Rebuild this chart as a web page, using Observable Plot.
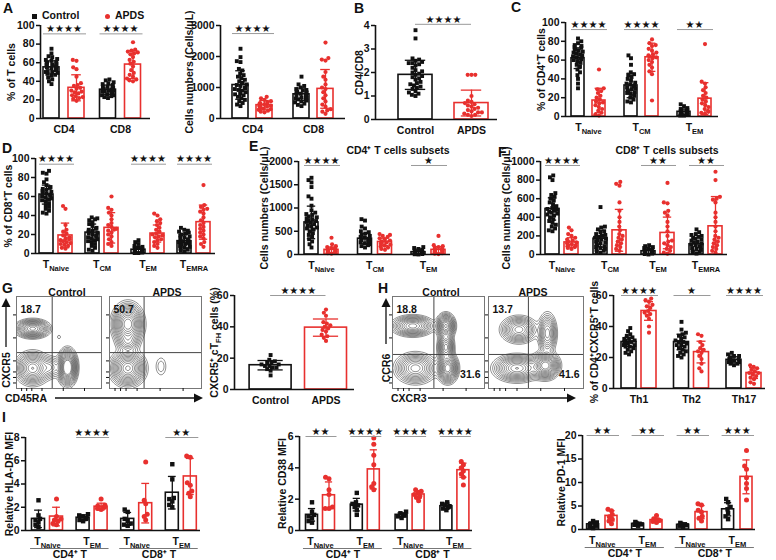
<!DOCTYPE html>
<html><head><meta charset="utf-8">
<script src="https://cdn.jsdelivr.net/npm/d3@7"></script>
<script src="https://cdn.jsdelivr.net/npm/@observablehq/plot@0.6"></script>
<style>
html,body{margin:0;padding:0;background:#fff;}
#fig{position:relative;width:776px;height:560px;overflow:hidden;background:#fff;font-family:'Liberation Sans',Arial,Helvetica,sans-serif;font-weight:bold;color:#111;}
.lbl{position:absolute;white-space:nowrap;line-height:1;}
.letter{font-size:14px;}
.ttl{font-size:10.5px;transform:translate(-50%,-50%);}
</style></head>
<body><div id="fig"></div>
<script>
// ================= DATA =================
const seriesNames = ["Control", "APDS"];

// A (left) – % of T cells
const aPctGroups = ["CD4", "CD8"];
const aPctCtrl = [[75,70,67,66,64,63,62,61,60,60,59,58,58,57,56,56,55,55,54,53,52,51,50,50,49,48,47,46,44,42,40,37],
                  [42,41,39,38,37,36,35,34,34,33,32,32,31,31,30,30,29,29,28,28,27,27,26,25,25,24,23,22]];
const aPctApds = [[63,62,55,53,45,38,36,35,33,32,30,29,28,27,25,24,23,22,21,19],
                  [82,74,73,72,71,70,69,66,63,61,59,56,52,49,47,45,43,42,41,40]];
const aPctCtrlMean = [55, 31], aPctCtrlSd = [7, 5];
const aPctApdsMean = [33, 58], aPctApdsSd = [14, 15];
const aPctStars = ["★★★★", "★★★★"];
const aPctTicks = [0, 20, 40, 60, 80, 100];

// A (right) – Cells numbers
const aNumGroups = ["CD4", "CD8"];
const aNumCtrl = [[2250,1980,1850,1820,1600,1550,1450,1400,1350,1300,1250,1200,1150,1100,1080,1050,1000,980,950,920,900,850,800,780,750,700,650,600,550,500,450,400],
                  [1350,1100,1050,1000,950,920,900,880,860,840,820,800,780,760,740,720,700,680,660,640,620,600,580,550,520,480,440,400]];
const aNumApds = [[700,650,600,560,520,500,480,460,440,420,400,380,360,340,320,300,280,250,220,200],
                  [2450,1950,1900,1870,1500,1350,1250,1100,1000,950,850,750,650,550,450,380,300,260,220,150]];
const aNumCtrlMean = [1080, 780], aNumCtrlSd = [460, 200];
const aNumApdsMean = [430, 955], aNumApdsSd = [150, 625];
const aNumStars = ["★★★★", ""];
const aNumTicks = [0, 1000, 2000, 3000];

// B – CD4/CD8
const bCtrl = [[3.8,3.45,2.6,2.55,2.5,2.45,2.4,2.4,2.35,2.3,2.2,2.1,2.05,2.0,1.95,1.9,1.85,1.8,1.75,1.7,1.6,1.55,1.5,1.45,1.4,1.35,1.3,1.2,1.15,1.1,1.05,1.0]];
const bApds = [[1.9,1.9,1.9,1.0,0.8,0.75,0.7,0.65,0.6,0.55,0.5,0.45,0.4,0.35,0.3,0.3,0.25,0.2,0.2,0.15]];
const bCtrlMean = [1.9], bCtrlSd = [0.62], bApdsMean = [0.7], bApdsSd = [0.55];
const bStars = ["★★★★"];
const bTicks = [0, 1, 2, 3, 4];

// C – % of CD4+ T cells
const cGroups = ["T_{Naive}", "T_{CM}", "T_{EM}"];
const cCtrl = [[83,80,78,76,75,74,73,72,71,70,69,68,67,66,65,64,63,62,61,60,59,57,55,53,50,47,44,40,35,30],
               [65,62,55,47,45,44,42,40,38,36,35,34,33,32,31,30,29,28,27,26,25,24,22,20,18,16,15],
               [13,11,9,8,7,7,6,6,5,5,5,4,4,4,3,3,3,2,2,2,1,1]];
const cApds = [[50,30,29,27,25,22,20,18,16,15,14,12,10,8,6,4,2,1],
               [82,78,76,75,72,70,68,66,65,64,63,62,60,58,55,52,48,45,17],
               [77,37,35,31,28,25,22,20,18,16,14,12,10,8,6,5,4,3]];
const cCtrlMean = [62, 33, 5], cCtrlSd = [11, 13, 3];
const cApdsMean = [17, 63, 19], cApdsSd = [13, 15, 17];
const cStars = ["★★★★", "★★★★", "★★"];
const pctTicks = [0, 20, 40, 60, 80, 100];

// D – % of CD8+ T cells
const dGroups = ["T_{Naive}", "T_{CM}", "T_{EM}", "T_{EMRA}"];
const dCtrl = [[87,85,84,78,75,72,70,69,68,67,66,65,64,63,62,61,60,59,58,57,56,55,53,51,49,47,45,43,42],
               [38,37,36,35,33,31,29,27,26,25,24,23,22,21,20,19,18,17,16,15,14,13,12,10,8,6,4,3],
               [14,12,10,8,7,6,6,5,5,4,4,4,3,3,3,2,2,2,1,1,1,0.5,0.5],
               [27,25,24,23,22,21,20,19,18,17,16,15,14,13,12,12,11,10,9,8,7,6,5,4,3,2]];
const dApds = [[50,47,30,25,23,21,19,17,16,15,14,13,12,11,10,9,8,6,5],
               [60,48,46,43,40,36,32,30,28,26,25,24,22,20,18,15,12,10,8],
               [42,40,36,34,32,30,27,25,23,21,20,19,18,17,15,14,12,10,8,6],
               [72,51,49,47,46,44,42,38,35,32,30,28,26,24,22,20,18,16,12,10,7]];
const dCtrlMean = [62, 22, 4, 13], dCtrlSd = [10, 9, 3, 7];
const dApdsMean = [19, 27, 21, 33], dApdsSd = [13, 16, 9, 18];
const dStars = ["★★★★", "", "★★★★", "★★★★"];

// E – CD4+ T cells subsets (cells/µL)
const eGroups = ["T_{Naive}", "T_{CM}", "T_{EM}"];
const eCtrl = [[1650,1600,1550,1450,1250,1200,1050,950,900,870,850,820,800,780,760,740,720,700,680,650,620,600,580,560,540,500,460,420,380,330,280,220,150],
               [760,730,600,560,500,480,450,420,400,380,360,340,330,320,310,300,290,280,270,260,240,220,200,180,150],
               [160,140,120,100,90,80,70,60,55,50,45,40,35,30,25,20,15,10,5,0]];
const eApds = [[360,220,180,160,140,130,120,110,100,90,80,70,60,50,40,30,20],
               [440,420,400,380,350,330,300,280,270,260,250,230,210,190,170,150,120,100],
               [400,200,180,160,140,130,120,110,100,90,80,70,60,50,40,30,20,10]];
const eCtrlMean = [690, 340, 50], eCtrlSd = [350, 110, 30];
const eApdsMean = [100, 270, 100], eApdsSd = [60, 80, 70];
const eStars = ["★★★★", "", "★"];
const eTicks = [0, 500, 1000, 1500, 2000];

// F – CD8+ T cells subsets (cells/µL)
const fGroups = ["T_{Naive}", "T_{CM}", "T_{EM}", "T_{EMRA}"];
const fCtrl = [[850,830,800,660,640,620,600,580,560,540,520,510,500,490,480,470,460,450,440,430,420,400,380,360,340,320,300,280,260,250],
               [510,300,290,270,250,240,220,210,200,190,180,170,160,150,140,130,120,110,100,90,80,70,60,50,40,30,20],
               [100,90,80,70,60,55,50,45,40,35,30,25,20,15,10,5,0],
               [270,240,220,210,200,190,180,170,160,150,140,130,120,110,100,90,80,70,60,50,40,30,20,10]];
const fApds = [[290,260,220,200,180,160,150,140,130,120,110,100,95,90,80,70,60],
               [780,760,740,560,470,400,350,300,260,220,200,180,160,140,120,100,80,60,40],
               [770,560,550,470,450,420,350,300,250,200,150,140,120,100,80,60,40,20,10],
               [890,800,620,600,590,560,450,400,350,300,250,200,180,160,140,120,100,80,60,40,20]];
const fCtrlMean = [490, 170, 35, 110], fCtrlSd = [120, 90, 25, 70];
const fApdsMean = [130, 260, 232, 303], fApdsSd = [50, 225, 170, 320];
const fStars = ["★★★★", "", "★★", "★★"];
const fTicks = [0, 200, 400, 600, 800, 1000];

// G – CXCR5+ cTFH cells (%)
const gCtrl = [[22,19,18,17,17,16,16,15,15,14,14,13,12,9]];
const gApds = [[51,49,47,43,42,41,40,39,38,37,35,34,33,31]];
const gCtrlMean = [15.5], gCtrlSd = [3], gApdsMean = [39.5], gApdsSd = [5.5];
const gStars = ["★★★★"];
const sixtyTicks = [0, 20, 40, 60];

// H – % of CD4+CXCR5+ T cells
const hGroups = ["Th1", "Th2", "Th17"];
const hCtrl = [[39,37,35,34,33,32,32,31,31,30,30,29,29,28,28,27,27,26,25,24,23,22],
               [43,38,36,35,34,33,32,31,30,30,29,28,28,27,26,25,24,23,22,21,20],
               [23,22,21,21,20,20,19,19,19,18,18,18,17,17,17,16,16,15]];
const hApds = [[58,57,56,54,53,52,50,49,48,47,45,40,36],
               [35,34,30,28,26,25,24,23,21,19,16,13,11],
               [15,14,13,12,11,10,10,9,8,7,6,4,3]];
const hCtrlMean = [30, 30, 18.5], hCtrlSd = [3, 5, 2];
const hApdsMean = [50, 23.5, 10], hApdsSd = [6, 7, 3.5];
const hStars = ["★★★★", "★", "★★★★"];

// I – relative MFI
const iGroups = ["T_{Naive}", "T_{EM}", "T_{Naive}", "T_{EM}"];
const iCats = ["CD4⁺ T", "CD8⁺ T"];
const i1Ctrl = [[2.6,1.3,1.0,0.9,0.7,0.5,0.3],[1.4,1.3,1.2,1.1,1.0,0.9,0.8],[1.8,1.6,1.0,0.8,0.6,0.5,0.4],[5.7,4.4,2.8,2.7,2.5,2.2,2.0]];
const i1Apds = [[2.7,1.2,1.0,0.9,0.8,0.6,0.5],[2.7,2.2,2.1,2.0,2.0,1.9,1.8],[5.9,2.6,2.3,1.4,1.2,0.9],[6.4,6.3,4.1,3.9,3.4,3.2,2.9]];
const i1CtrlMean = [1.0, 1.1, 1.0, 3.25], i1CtrlSd = [0.75, 0.25, 0.55, 1.4];
const i1ApdsMean = [1.2, 2.05, 2.35, 4.65], i1ApdsSd = [0.8, 0.3, 1.7, 1.55];
const i1Stars = ["", "★★★★", "", "★★"];
const i1Ticks = [0, 2, 4, 6, 8];

const i2Ctrl = [[1.8,1.2,1.0,0.9,0.8,0.6,0.5],[2.4,1.8,1.7,1.6,1.5,1.3,1.0],[1.2,1.1,1.0,1.0,0.95,0.9,0.8],[1.8,1.7,1.6,1.55,1.5,1.4,1.3]];
const i2Apds = [[3.4,3.3,2.6,2.3,1.5,1.4,1.4],[5.9,5.5,4.8,4.2,3.0,2.8,2.6],[2.6,2.5,2.4,2.3,2.2,2.1,1.9],[4.4,4.2,4.0,3.8,3.6,3.4,2.9]];
const i2CtrlMean = [1.0, 1.65, 1.0, 1.55], i2CtrlSd = [0.4, 0.4, 0.12, 0.2];
const i2ApdsMean = [2.25, 3.9, 2.3, 3.85], i2ApdsSd = [0.85, 1.25, 0.25, 0.45];
const i2Stars = ["★★", "★★★★", "★★★★", "★★★★"];
const i2Ticks = [0, 2, 4, 6];

const i3Ctrl = [[1.8,1.5,1.2,1.0,0.8,0.6,0.3],[1.6,1.4,1.3,1.2,1.1,1.0,0.8],[1.4,1.2,1.1,1.0,0.9,0.8,0.6],[6.5,5.8,4.8,4.3,3.5,2.8,2.2]];
const i3Apds = [[4.3,4.0,3.2,2.7,2.2,1.8,1.2],[3.0,2.3,2.1,2.0,1.9,1.7,1.5],[5.5,5.2,4.1,3.7,2.8,2.4,1.8],[16.8,13.5,12.8,11.0,9.8,8.7,6.3]];
const i3CtrlMean = [1.1, 1.2, 1.0, 4.3], i3CtrlSd = [0.5, 0.3, 0.3, 1.4];
const i3ApdsMean = [2.9, 2.0, 3.7, 11.2], i3ApdsSd = [1.1, 0.4, 1.4, 3.6];
const i3Stars = ["★★", "★★", "★★", "★★★"];
const i3Ticks = [0, 5, 10, 15, 20];

// Flow cytometry contour panels: density cluster centres (x, y in 0–1), spreads and weights
const gCtrlClusters = [
  {x:0.19,y:0.65,sx:0.09,sy:0.045,w:0.8},{x:0.19,y:0.22,sx:0.09,sy:0.08,w:0.75},
  {x:0.6,y:0.23,sx:0.05,sy:0.085,w:1.3},{x:0.40,y:0.23,sx:0.06,sy:0.06,w:0.2},{x:0.50,y:0.56,sx:0.018,sy:0.018,w:0.05}];
const gApdsClusters = [
  {x:0.2,y:0.7,sx:0.075,sy:0.1,w:1.0},{x:0.2,y:0.5,sx:0.06,sy:0.05,w:0.25},
  {x:0.2,y:0.22,sx:0.085,sy:0.085,w:0.9},{x:0.56,y:0.24,sx:0.04,sy:0.07,w:0.07}];
const hCtrlClusters = [
  {x:0.22,y:0.68,sx:0.1,sy:0.05,w:0.7},{x:0.58,y:0.68,sx:0.045,sy:0.06,w:0.9},
  {x:0.58,y:0.45,sx:0.04,sy:0.07,w:0.7},{x:0.6,y:0.22,sx:0.05,sy:0.07,w:1.0},{x:0.25,y:0.22,sx:0.1,sy:0.075,w:0.6}];
const hApdsClusters = [
  {x:0.32,y:0.64,sx:0.085,sy:0.065,w:0.6},{x:0.62,y:0.6,sx:0.045,sy:0.1,w:0.5},
  {x:0.6,y:0.25,sx:0.065,sy:0.065,w:1.0},{x:0.3,y:0.22,sx:0.11,sy:0.065,w:0.75}];
const contourLevels = [0.03,0.05,0.075,0.105,0.14,0.18,0.23,0.29,0.36,0.44,0.53,0.63,0.74,0.86];
const flowTicks = [0.06,0.12,0.18,0.3,0.55,0.8];
const gCtrlNums = ["18.7"], gApdsNums = ["50.7"];
const hCtrlNums = ["18.8", "31.6"], hApdsNums = ["13.7", "41.6"];

// ================= LAYOUT / STYLE =================
const RED = "#e8302e", BLACK = "#111";
const FONT = "'Liberation Sans', Arial, Helvetica, sans-serif";
const fig = document.getElementById("fig");

const L = {
  aPct: {x0:40, x1:150, c0:63.5, step:56.5, off:12.5, bw:16, yTop:25, yBot:118, titleX:11, sigY:91},
  aNum: {x0:220, x1:345, c0:252, step:61, off:12, bw:16, yTop:25, yBot:118, titleX:189, sigY:2740},
  b:    {x0:375, x1:497, c0:443, step:100, off:28, bw:34, yTop:25, yBot:119, titleX:359, sigY:4.05, sigCenters:true},
  c:    {x0:565, x1:718, c0:588, step:53, off:10.5, bw:13, yTop:22, yBot:116, titleX:541, sigY:92.5},
  d:    {x0:35, x1:215, c0:55.5, step:46, off:9.5, bw:14, yTop:158, yBot:253, titleX:8, sigY:94},
  e:    {x0:298, x1:450, c0:321, step:53.5, off:10, bw:14, yTop:161, yBot:254, titleX:264, sigY:1914},
  f:    {x0:540, x1:727, c0:561.5, step:48, off:9.5, bw:14, yTop:161, yBot:254, titleX:506, sigY:957},
  g:    {x0:234, x1:354, c0:297.8, step:100, off:27.7, bw:42, yTop:295, yBot:389, titleX:214, sigY:60, sigCenters:true},
  h:    {x0:613, x1:765, c0:638.5, step:52.5, off:10, bw:15, yTop:295, yBot:388, titleX:594, sigY:60},
  i1:   {x0:25, x1:200, c0:47, step:44.6, off:9, bw:13, yTop:437, yBot:530, titleX:9, sigY:8, r:2.5},
  i2:   {x0:299, x1:472, c0:320, step:44.8, off:8.5, bw:12, yTop:436, yBot:530, titleX:282, sigY:6, r:2.5},
  i3:   {x0:582, x1:755, c0:601.8, step:45, off:9.2, bw:12, yTop:435, yBot:529, titleX:561, sigY:20, r:2.5}
};

function swarm(vals, ypx, d, maxOff) {
  const order = vals.map((v, i) => i).sort((a, b) => vals[a] - vals[b]);
  const placed = [], out = new Array(vals.length).fill(0);
  for (const i of order) {
    const y = ypx(vals[i]);
    const near = placed.filter(p => Math.abs(p.y - y) < d);
    const cands = [0];
    for (const p of near) { const dx = Math.sqrt(d * d - (p.y - y) ** 2); cands.push(p.x + dx, p.x - dx); }
    cands.sort((a, b) => Math.abs(a) - Math.abs(b) || a - b);
    let x = cands.find(c => near.every(p => (c - p.x) ** 2 + (y - p.y) ** 2 >= d * d - 0.01));
    if (x === undefined) x = 0;
    if (Math.abs(x) > maxOff) x = Math.sign(x) * (maxOff - (Math.abs(x) - maxOff) % maxOff);
    placed.push({x, y}); out[i] = x;
  }
  return out;
}

function richText(root) {
  const NS = "http://www.w3.org/2000/svg";
  root.querySelectorAll("text").forEach(el => {
    if (el.children.length) return;
    const t = el.textContent;
    if (!t.includes("_{")) return;
    el.textContent = "";
    let down = false;
    for (const part of t.split(/(_\{[^}]*\})/)) {
      if (!part) continue;
      const ts = document.createElementNS(NS, "tspan");
      if (part.startsWith("_{")) {
        ts.textContent = part.slice(2, -1);
        ts.setAttribute("dy", "3"); ts.setAttribute("font-size", "7.5px"); down = true;
      } else {
        ts.textContent = part;
        if (down) { ts.setAttribute("dy", "-3"); down = false; }
      }
      el.appendChild(ts);
    }
  });
}

function place(svg, left, top) {
  svg.style.position = "absolute";
  svg.style.left = left + "px";
  svg.style.top = top + "px";
  svg.style.overflow = "visible";
  svg.style.background = "transparent";
  richText(svg);
  fig.appendChild(svg);
}

function barPanel(p, g) {
  const mL = 60, mR = 8, mT = 26, mB = 36;
  const W = g.x1 - g.x0, H = g.yBot - g.yTop;
  const step = g.step, offU = g.off / step, hwU = g.bw / 2 / step, capU = g.bw * 0.3 / step;
  const xDom = [(g.x0 - g.c0) / step, (g.x1 - g.c0) / step];
  const ypx = v => H - v / p.yMax * H;
  const bars = [], ctrlDots = [], apdsDots = [];
  p.ctrl.forEach((_, i) => {
    const specs = [[seriesNames[0], p.ctrl[i], p.ctrlMean[i], p.ctrlSd[i], -1, ctrlDots, BLACK],
                   [seriesNames[1], p.apds[i], p.apdsMean[i], p.apdsSd[i], 1, apdsDots, RED]];
    for (const [s, pts, m, sd, sign, arr, color] of specs) {
      const cx = i + sign * offU;
      bars.push({s, cx, x1: cx - hwU, x2: cx + hwU, m, lo: Math.max(0, m - sd), hi: m + sd, color});
      const offs = swarm(pts, ypx, g.d ?? 3.8, g.bw / 2 - 1.5);
      pts.forEach((v, k) => arr.push({x: cx + offs[k] / step, y: v}));
    }
  });
  const xLabels = p.barLabels
    ? p.barLabels.map((t, j) => ({x: j === 0 ? -offU : offU, t}))
    : p.groups.map((t, i) => ({x: i, t}));
  const sig = p.stars.map((t, i) => ({t, x: i, y: g.sigY,
      x1: g.sigCenters ? i - offU : i - offU - hwU,
      x2: g.sigCenters ? i + offU : i + offU + hwU + 2 / step})).filter(d => d.t);
  const cats = (p.cats || []).map((t, j) => ({t, x: 2 * j + 0.5, x1: 2 * j - 0.38, x2: 2 * j + 1.38}));
  const marks = [
    Plot.rectY(bars, {x1: "x1", x2: "x2", y1: 0, y2: "m", fill: "white", stroke: "color", strokeWidth: 1.6}),
    Plot.dot(ctrlDots, {x: "x", y: "y", symbol: "square", fill: BLACK, r: g.r ?? 2.2}),
    Plot.dot(apdsDots, {x: "x", y: "y", symbol: "circle", fill: RED, r: g.r ?? 2.1}),
    Plot.ruleX(bars, {x: "cx", y1: "lo", y2: "hi", stroke: "color", strokeWidth: 1.3}),
    Plot.ruleY(bars, {y: "hi", x1: d => d.cx - capU, x2: d => d.cx + capU, stroke: "color", strokeWidth: 1.3}),
    Plot.ruleY(bars.filter(d => d.lo > 0), {y: "lo", x1: d => d.cx - capU, x2: d => d.cx + capU, stroke: "color", strokeWidth: 1.3}),
    Plot.ruleY([0], {stroke: BLACK, strokeWidth: 1.6}),
    Plot.ruleX([xDom[0]], {stroke: BLACK, strokeWidth: 1.6}),
    Plot.axisY({ticks: p.yTicks, tickFormat: d => String(d), tickSize: 4, tickPadding: 2, strokeWidth: 1.5, label: null, fontSize: 10.5}),
    Plot.text(xLabels, {x: "x", y: () => 0, dy: 11, text: "t", fontSize: 10.5}),
    Plot.ruleY(sig, {y: "y", x1: "x1", x2: "x2", stroke: "#9a9a9a", strokeWidth: 1}),
    Plot.text(sig, {x: "x", y: "y", dy: -5, text: "t", fontFamily: "DejaVu Sans", fontWeight: "normal", fontSize: 10}),
    Plot.text([p.yTitle], {frameAnchor: "left", textAnchor: "middle", rotate: -90, dx: g.titleX - g.x0, text: d => d, fontSize: 10.5}),
    Plot.ruleY(cats, {y: () => 0, x1: "x1", x2: "x2", dy: 18, stroke: "#777", strokeWidth: 1}),
    Plot.text(cats, {x: "x", y: () => 0, dy: 24.5, text: "t", fontSize: 10.5})
  ];
  const svg = Plot.plot({
    width: mL + W + mR, height: mT + H + mB,
    marginLeft: mL, marginRight: mR, marginTop: mT, marginBottom: mB,
    x: {type: "linear", domain: xDom, axis: null},
    y: {type: "linear", domain: [0, p.yMax], axis: null},
    color: {type: "identity"},
    style: {fontFamily: FONT, fontWeight: "bold", fontSize: "10.5px", color: BLACK, background: "transparent"},
    marks
  });
  place(svg, g.x0 - mL, g.yTop - mT);
}

function flowPanel(clusters, box, nums) {
  const mL = 4, mR = 1, mT = 1, mB = 4;
  const W = box.x1 - box.x0, H = box.y1 - box.y0;
  const f = (x, y) => clusters.reduce((s, c) =>
    s + c.w * Math.exp(-((x - c.x) ** 2 / (2 * c.sx * c.sx) + (y - c.y) ** 2 / (2 * c.sy * c.sy))), 0);
  const marks = [];
  try {
    marks.push(Plot.contour({x1: 0, y1: 0, x2: 1, y2: 1, value: f, thresholds: contourLevels,
      pixelSize: 1, stroke: "#4a4a4a", strokeWidth: 0.6, fill: "none"}));
  } catch (e) { console.error(e); }
  marks.push(
    Plot.ruleX([box.gx], {stroke: "#444", strokeWidth: 1}),
    Plot.ruleY([box.gy], {stroke: "#444", strokeWidth: 1}),
    Plot.frame({stroke: "#777"}),
    Plot.axisX({ticks: flowTicks, tickSize: 3, tickFormat: () => "", strokeWidth: 1}),
    Plot.axisY({ticks: flowTicks, tickSize: 3, tickFormat: () => "", strokeWidth: 1}),
    Plot.text(nums.slice(0, 1), {frameAnchor: "top-left", dx: 4, dy: 9, text: d => d, textAnchor: "start", fontSize: 10.5}),
    Plot.text(nums.slice(1), {frameAnchor: "bottom-right", dx: -4, dy: -11, text: d => d, textAnchor: "end", fontSize: 10.5})
  );
  const svg = Plot.plot({
    width: W + mL + mR, height: H + mT + mB,
    marginLeft: mL, marginRight: mR, marginTop: mT, marginBottom: mB,
    x: {domain: [0, 1], axis: null}, y: {domain: [0, 1], axis: null},
    style: {fontFamily: FONT, fontWeight: "bold", fontSize: "10.5px", color: BLACK, background: "transparent"},
    marks
  });
  place(svg, box.x0 - mL, box.y0 - mT);
}

function label(text, x, y, cls, extra) {
  const d = document.createElement("div");
  d.className = "lbl " + cls;
  d.style.left = x + "px"; d.style.top = y + "px";
  if (extra) Object.assign(d.style, extra);
  d.innerHTML = text;
  fig.appendChild(d);
}

// ================= BUILD =================
barPanel({groups: aPctGroups, ctrl: aPctCtrl, apds: aPctApds, ctrlMean: aPctCtrlMean, ctrlSd: aPctCtrlSd,
  apdsMean: aPctApdsMean, apdsSd: aPctApdsSd, stars: aPctStars, yMax: 100, yTicks: aPctTicks, yTitle: "% of T cells"}, L.aPct);
barPanel({groups: aNumGroups, ctrl: aNumCtrl, apds: aNumApds, ctrlMean: aNumCtrlMean, ctrlSd: aNumCtrlSd,
  apdsMean: aNumApdsMean, apdsSd: aNumApdsSd, stars: aNumStars, yMax: 3000, yTicks: aNumTicks, yTitle: "Cells numbers (Cells/μL)"}, L.aNum);
barPanel({groups: [""], barLabels: seriesNames, ctrl: bCtrl, apds: bApds, ctrlMean: bCtrlMean, ctrlSd: bCtrlSd,
  apdsMean: bApdsMean, apdsSd: bApdsSd, stars: bStars, yMax: 4, yTicks: bTicks, yTitle: "CD4/CD8"}, L.b);
barPanel({groups: cGroups, ctrl: cCtrl, apds: cApds, ctrlMean: cCtrlMean, ctrlSd: cCtrlSd,
  apdsMean: cApdsMean, apdsSd: cApdsSd, stars: cStars, yMax: 100, yTicks: pctTicks, yTitle: "% of CD4⁺T cells"}, L.c);
barPanel({groups: dGroups, ctrl: dCtrl, apds: dApds, ctrlMean: dCtrlMean, ctrlSd: dCtrlSd,
  apdsMean: dApdsMean, apdsSd: dApdsSd, stars: dStars, yMax: 100, yTicks: pctTicks, yTitle: "% of CD8⁺T cells"}, L.d);
barPanel({groups: eGroups, ctrl: eCtrl, apds: eApds, ctrlMean: eCtrlMean, ctrlSd: eCtrlSd,
  apdsMean: eApdsMean, apdsSd: eApdsSd, stars: eStars, yMax: 2000, yTicks: eTicks, yTitle: "Cells numbers (Cells/μL)"}, L.e);
barPanel({groups: fGroups, ctrl: fCtrl, apds: fApds, ctrlMean: fCtrlMean, ctrlSd: fCtrlSd,
  apdsMean: fApdsMean, apdsSd: fApdsSd, stars: fStars, yMax: 1000, yTicks: fTicks, yTitle: "Cells numbers (Cells/μL)"}, L.f);
barPanel({groups: [""], barLabels: seriesNames, ctrl: gCtrl, apds: gApds, ctrlMean: gCtrlMean, ctrlSd: gCtrlSd,
  apdsMean: gApdsMean, apdsSd: gApdsSd, stars: gStars, yMax: 60, yTicks: sixtyTicks, yTitle: "CXCR5⁺ cT_{FH} cells (%)"}, L.g);
barPanel({groups: hGroups, ctrl: hCtrl, apds: hApds, ctrlMean: hCtrlMean, ctrlSd: hCtrlSd,
  apdsMean: hApdsMean, apdsSd: hApdsSd, stars: hStars, yMax: 60, yTicks: sixtyTicks, yTitle: "% of CD4⁺CXCR5⁺T cells"}, L.h);
barPanel({groups: iGroups, cats: iCats, ctrl: i1Ctrl, apds: i1Apds, ctrlMean: i1CtrlMean, ctrlSd: i1CtrlSd,
  apdsMean: i1ApdsMean, apdsSd: i1ApdsSd, stars: i1Stars, yMax: 8, yTicks: i1Ticks, yTitle: "Relative HLA-DR MFI"}, L.i1);
barPanel({groups: iGroups, cats: iCats, ctrl: i2Ctrl, apds: i2Apds, ctrlMean: i2CtrlMean, ctrlSd: i2CtrlSd,
  apdsMean: i2ApdsMean, apdsSd: i2ApdsSd, stars: i2Stars, yMax: 6, yTicks: i2Ticks, yTitle: "Relative CD38 MFI"}, L.i2);
barPanel({groups: iGroups, cats: iCats, ctrl: i3Ctrl, apds: i3Apds, ctrlMean: i3CtrlMean, ctrlSd: i3CtrlSd,
  apdsMean: i3ApdsMean, apdsSd: i3ApdsSd, stars: i3Stars, yMax: 20, yTicks: i3Ticks, yTitle: "Relative PD-1 MFI"}, L.i3);

// Flow panels
const flowBoxes = {
  gCtrl: {x0:16, x1:101, y0:296, y1:388, gx:0.42, gy:0.39},
  gApds: {x0:109, x1:201, y0:296, y1:388, gx:0.376, gy:0.39},
  hCtrl: {x0:392, x1:484, y0:296, y1:388, gx:0.45, gy:0.37},
  hApds: {x0:488, x1:583, y0:296, y1:388, gx:0.42, gy:0.37}
};
flowPanel(gCtrlClusters, flowBoxes.gCtrl, gCtrlNums);
flowPanel(gApdsClusters, flowBoxes.gApds, gApdsNums);
flowPanel(hCtrlClusters, flowBoxes.hCtrl, hCtrlNums);
flowPanel(hApdsClusters, flowBoxes.hApds, hApdsNums);

// Axis arrows of flow panels (decoration)
(function () {
  const svg = d3.select(fig).append("svg").attr("width", 776).attr("height", 560)
    .style("position", "absolute").style("left", 0).style("top", 0)
    .style("font-family", FONT).style("font-weight", "bold").style("font-size", "10.5px");
  const arrows = [[6, 347, 6, 298], [55, 398, 203, 398], [386, 344, 386, 298], [428, 398, 576, 398]];
  for (const [x1, y1, x2, y2] of arrows) {
    const ang = Math.atan2(y2 - y1, x2 - x1), len = 9, wd = 4.5;
    const bx = x2 - len * Math.cos(ang), by = y2 - len * Math.sin(ang);
    svg.append("line").attr("x1", x1).attr("y1", y1).attr("x2", bx).attr("y2", by).attr("stroke", BLACK).attr("stroke-width", 1.3);
    svg.append("path").attr("fill", BLACK).attr("d",
      `M${x2},${y2}L${bx - wd * Math.sin(ang)},${by + wd * Math.cos(ang)}L${bx + wd * Math.sin(ang)},${by - wd * Math.cos(ang)}Z`);
  }
  const texts = [["CXCR5", 6, 370, -90, "middle"], ["CD45RA", 5, 398, 0, "start"], ["CCR6", 386, 368, -90, "middle"], ["CXCR3", 391, 398, 0, "start"]];
  for (const [t, x, y, r, a] of texts)
    svg.append("text").attr("transform", `translate(${x},${y}) rotate(${r})`).attr("dy", "0.35em").attr("text-anchor", a).attr("fill", BLACK).text(t);
})();

// Panel letters, flow titles, subset titles, legend
[["A",3,1],["B",354,1],["C",511,0],["D",2,141],["E",249,139],["F",498,145],["G",2,281],["H",378,281],["I",2,410]]
  .forEach(([t, x, y]) => label(t, x, y, "letter"));
[["Control",67,292],["APDS",167,292],["Control",441,292],["APDS",533,292],
 ["CD4⁺ T cells subsets",398,150],["CD8⁺ T cells subsets",667,150]]
  .forEach(([t, x, y]) => label(t, x, y, "ttl"));
label('<span style="display:inline-block;width:5px;height:5px;background:#111;vertical-align:middle;margin-right:5px"></span>Control', 32, 10, "", {fontSize: "10.5px"});
label('<span style="display:inline-block;width:5px;height:5px;border-radius:50%;background:' + RED + ';vertical-align:middle;margin-right:5px"></span>APDS', 105, 10, "", {fontSize: "10.5px"});
</script></body></html>
